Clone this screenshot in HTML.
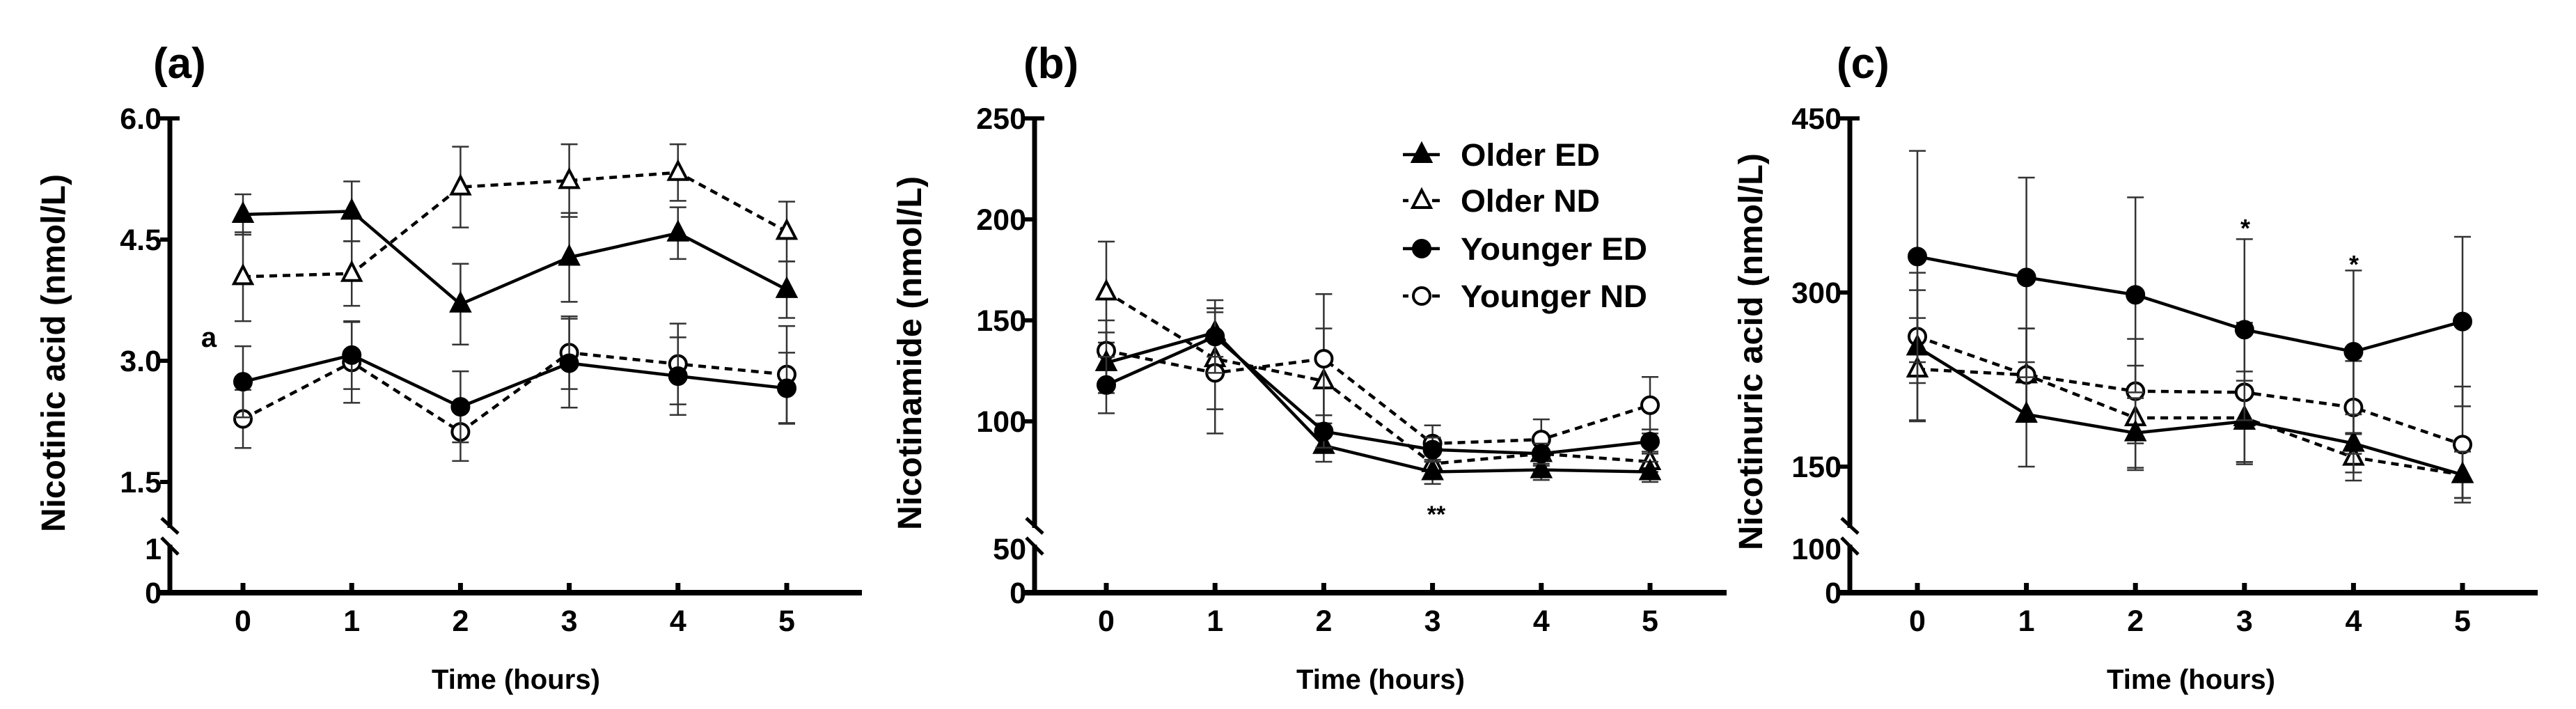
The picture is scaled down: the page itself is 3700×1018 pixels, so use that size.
<!DOCTYPE html>
<html><head><meta charset="utf-8"><style>
html,body{margin:0;padding:0;background:#fff;}
svg{display:block;font-family:"Liberation Sans",Arial,sans-serif;font-weight:bold;}
</style></head><body>
<svg id="fig" width="3700" height="1018" viewBox="0 0 3700 1018" xmlns="http://www.w3.org/2000/svg"></svg>
<script>
// ---------- data ----------
const hours = [0,1,2,3,4,5];
const seriesNames = ["Older ED","Older ND","Younger ED","Younger ND"];
// Panel (a) Nicotinic acid
const aOlderED   = [4.81,4.85,3.70,4.28,4.58,3.88];
const aOlderEDerr= [0.25,0.37,0.50,0.55,0.32,0.35];
const aOlderND   = [4.04,4.08,5.15,5.23,5.33,4.60];
const aOlderNDerr= [0.55,0.40,0.50,0.45,0.35,0.37];
const aYoungED   = [2.74,3.07,2.43,2.97,2.81,2.66];
const aYoungEDerr= [0.44,0.42,0.44,0.55,0.48,0.44];
const aYoungND   = [2.28,2.98,2.12,3.10,2.96,2.83];
const aYoungNDerr= [0.36,0.50,0.36,0.45,0.50,0.60];
const aTicks = ["6.0","4.5","3.0","1.5"];
const aTickVals = [6.0,4.5,3.0,1.5];
// Panel (b) Nicotinamide
const bOlderED   = [129,144,88,75,76,75];
const bOlderEDerr= [15,12,8,6,5,5];
const bOlderND   = [164,131,120,79,84,80];
const bOlderNDerr= [25,25,26,6,6,5];
const bYoungED   = [118,142,95,86,84,90];
const bYoungEDerr= [14,18,8,6,5,6];
const bYoungND   = [135,124,131,89,91,108];
const bYoungNDerr= [15,30,32,9,10,14];
const bTicks = ["250","200","150","100"];
const bTickVals = [250,200,150,100];
// Panel (c) Nicotinuric acid
const cOlderED   = [253,195,179,189,170,143];
const cOlderEDerr= [64,45,30,35,25,20];
const cOlderND   = [234,229,192,192,158,143];
const cOlderNDerr= [44,40,45,40,20,20];
const cYoungED   = [331,313,298,268,249,275];
const cYoungEDerr= [91,86,84,78,70,73];
const cYoungND   = [262,229,215,214,201,169];
const cYoungNDerr= [40,40,45,60,40,50];
const cTicks = ["450","300","150"];
const cTickVals = [450,300,150];

const NS="http://www.w3.org/2000/svg";
const svg=document.getElementById('fig');
function mk(tag,attrs,parent){const e=document.createElementNS(NS,tag);for(const k in attrs)e.setAttribute(k,attrs[k]);(parent||svg).appendChild(e);return e;}

function panel(cfg){
  const g=mk('g',{});
  
  
  const ax=cfg.axisX, y0=851;
  const xs=h=>cfg.x0+h*cfg.dx;
  const ys=v=>cfg.yTop+(cfg.vTop-v)*(cfg.yRef-cfg.yTop)/(cfg.vTop-cfg.vRef);
  // panel letter
  const t=mk('text',{x:cfg.letterX,y:112,'font-size':62},g);t.textContent=cfg.letter;
  
  
  // y axis
  const ya=mk('path',{d:`M${ax},170 L${ax},758 M${ax},782 L${ax},${y0}`,stroke:'#000','stroke-width':7,fill:'none'},g);
  
  
  mk('path',{d:`M${ax-12},744 L${ax+12},766 M${ax-12},772 L${ax+12},796`,stroke:'#000','stroke-width':5,fill:'none'},g);
  // x axis
  const xa=mk('line',{x1:ax-14,y1:y0,x2:cfg.xEnd,y2:y0,stroke:'#000','stroke-width':8},g);
  
  
  // y ticks
  cfg.tickVals.forEach((v,i)=>{
    const y=ys(v);
    mk('line',{x1:ax-14,y1:y,x2:ax+ (i===0?14:0),y2:y,stroke:'#000','stroke-width':6},g);
    const tl=mk('text',{x:ax-12,y:y+15,'font-size':43,'text-anchor':'end'},g);tl.textContent=cfg.tickLabels[i];
    
    
  });
  // lower labels
  const lb=mk('text',{x:ax-12,y:803,'font-size':43,'text-anchor':'end'},g);lb.textContent=cfg.lowLabel;
  
  
  const l0=mk('text',{x:ax-12,y:y0+15,'font-size':43,'text-anchor':'end'},g);l0.textContent='0';
  
  
  // x ticks
  hours.forEach(h=>{
    mk('line',{x1:xs(h),y1:y0-14,x2:xs(h),y2:y0,stroke:'#000','stroke-width':7},g);
    const tl=mk('text',{x:xs(h),y:906,'font-size':43,'text-anchor':'middle'},g);tl.textContent=String(h);
    
    
  });
  // titles
  const xt=mk('text',{x:cfg.xTitleX,y:989,'font-size':40,'text-anchor':'middle',textLength:242,lengthAdjust:'spacingAndGlyphs'},g);xt.textContent='Time (hours)';
  
  
  const yt=mk('text',{x:0,y:0,'font-size':48,'text-anchor':'middle',textLength:cfg.yTitleLen,lengthAdjust:'spacingAndGlyphs',transform:`translate(${cfg.yTitleX},${cfg.yTitleY}) rotate(-90)`},g);yt.textContent=cfg.yTitle;
  
  
  // series
  const order=[1,3,0,2];
  order.forEach(si=>{
    const s=cfg.series[si];
    const sg=mk('g',{},g);
    
    
    s.v.forEach((v,i)=>{
      const x=xs(hours[i]),yh=ys(v+s.e[i]),yl=ys(v-s.e[i]);
      mk('path',{d:`M${x},${yh} L${x},${yl} M${x-12},${yh} L${x+12},${yh} M${x-12},${yl} L${x+12},${yl}`,stroke:'#333','stroke-width':2.5,fill:'none'},sg);
    });
    const pts=s.v.map((v,i)=>xs(hours[i])+','+ys(v)).join(' ');
    mk('polyline',{points:pts,fill:'none',stroke:'#000','stroke-width':4.5,'stroke-dasharray':(si%2?'11 8':'none')},sg);
    s.v.forEach((v,i)=>{
      const m=marker(sg,si,xs(hours[i]),ys(v));
      
      
    });
  });
}
function marker(parent,si,x,y){
  if(si<2){
    return mk('path',{d:`M${x},${y-15} L${x+13},${y+10} L${x-13},${y+10} Z`,fill:si===0?'#000':'#fff',stroke:'#000','stroke-width':4},parent);
  }
  return mk('circle',{cx:x,cy:y,r:12,fill:si===2?'#000':'#fff',stroke:'#000','stroke-width':4},parent);
}

panel({name:'panel-a-nicotinic-acid',letter:'(a)',letterX:220,axisX:244,x0:349,dx:156.2,xEnd:1238,
  yTop:170,vTop:6.0,yRef:518,vRef:3.0,tickVals:aTickVals,tickLabels:aTicks,lowLabel:'1',
  xTitleX:741,yTitle:'Nicotinic acid (nmol/L)',yTitleX:93,yTitleY:507,yTitleLen:514,
  series:[{v:aOlderED,e:aOlderEDerr},{v:aOlderND,e:aOlderNDerr},{v:aYoungED,e:aYoungEDerr},{v:aYoungND,e:aYoungNDerr}]});
panel({name:'panel-b-nicotinamide',letter:'(b)',letterX:1470,axisX:1486,x0:1589,dx:156.2,xEnd:2480,
  yTop:170,vTop:250,yRef:605,vRef:100,tickVals:bTickVals,tickLabels:bTicks,lowLabel:'50',
  xTitleX:1983,yTitle:'Nicotinamide (nmol/L)',yTitleX:1323,yTitleY:507,yTitleLen:508,
  series:[{v:bOlderED,e:bOlderEDerr},{v:bOlderND,e:bOlderNDerr},{v:bYoungED,e:bYoungEDerr},{v:bYoungND,e:bYoungNDerr}]});
panel({name:'panel-c-nicotinuric-acid',letter:'(c)',letterX:2638,axisX:2657,x0:2754,dx:156.6,xEnd:3645,
  yTop:170,vTop:450,yRef:670,vRef:150,tickVals:cTickVals,tickLabels:cTicks,lowLabel:'100',
  xTitleX:3147,yTitle:'Nicotinuric acid (nmol/L)',yTitleX:2531,yTitleY:505,yTitleLen:570,
  series:[{v:cOlderED,e:cOlderEDerr},{v:cOlderND,e:cOlderNDerr},{v:cYoungED,e:cYoungEDerr},{v:cYoungND,e:cYoungNDerr}]});

// annotations
function ann(txt,x,y,fs,name){const t=mk('text',{x:x,y:y,'font-size':fs,'text-anchor':'middle'});t.textContent=txt;
  
  }
ann('a',300,498,40,'annotation-a');
ann('**',2063,750,34,'significance-b-3h');
ann('*',3225,340,36,'significance-c-3h');
ann('*',3381,392,36,'significance-c-4h');

// legend
const leg=mk('g',{});


const legY=[222,288,357,425];
seriesNames.forEach((n,i)=>{
  const eg=mk('g',{},leg);
  
  
  mk('line',{x1:2015,y1:legY[i],x2:2068,y2:legY[i],stroke:'#000','stroke-width':4.5,'stroke-dasharray':(i%2?'8 22 4':'none')},eg);
  marker(eg,i,2042,legY[i]);
  const t=mk('text',{x:2098,y:legY[i]+16,'font-size':45,textLength:(n.startsWith('Older')?200:268),lengthAdjust:'spacingAndGlyphs'},eg);t.textContent=n;
});
</script>
</body></html>
